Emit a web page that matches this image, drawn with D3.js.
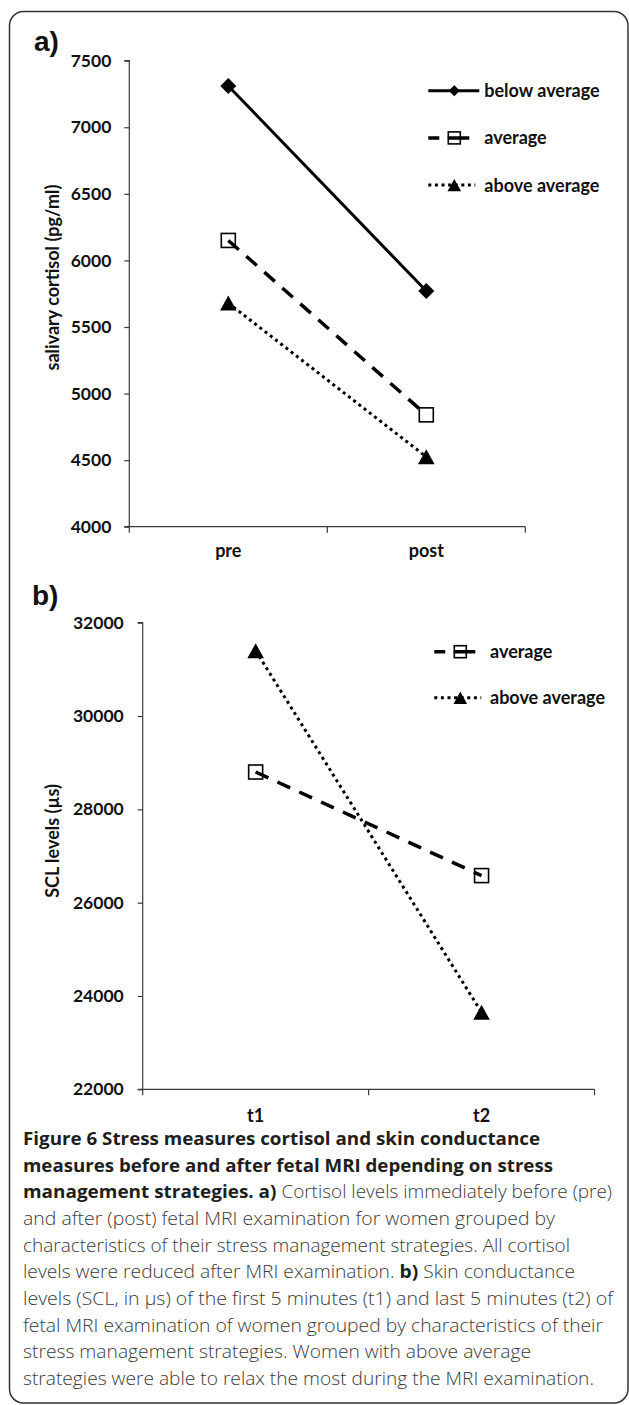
<!DOCTYPE html>
<html>
<head>
<meta charset="utf-8">
<script src="https://cdn.jsdelivr.net/npm/d3@7"></script>
<style>
  html, body { margin: 0; padding: 0; background: #fff; }
  svg { display: block; }
</style>
</head>
<body>
<svg id="chart" width="629" height="1405"></svg>
<script>
// ---------- data ----------
const catsA = ["pre", "post"];
const ticksA = [4000, 4500, 5000, 5500, 6000, 6500, 7000, 7500];
const belowA = [7310, 5770];
const averageA = [6150, 4840];
const aboveA = [5680, 4525];

const catsB = ["t1", "t2"];
const ticksB = [22000, 24000, 26000, 28000, 30000, 32000];
const averageB = [28800, 26580];
const aboveB = [31400, 23650];

const legendA = ["below average", "average", "above average"];
const legendB = ["average", "above average"];

const captionLines = [
  [["b", "Figure 6 Stress measures cortisol and skin conductance"]],
  [["b", "measures before and after fetal MRI depending on stress"]],
  [["b", "management strategies. a)"], ["r", " Cortisol levels immediately before (pre)"]],
  [["r", "and after (post) fetal MRI examination for women grouped by"]],
  [["r", "characteristics of their stress management strategies. All cortisol"]],
  [["r", "levels were reduced after MRI examination. "], ["b", "b)"], ["r", " Skin conductance"]],
  [["r", "levels (SCL, in µs) of the first 5 minutes (t1) and last 5 minutes (t2) of"]],
  [["r", "fetal MRI examination of women grouped by characteristics of their"]],
  [["r", "stress management strategies. Women with above average"]],
  [["r", "strategies were able to relax the most during the MRI examination."]]
];
const captionWidths = [517, 530, 589, 532, 547, 552, 590, 580, 508, 571];

// ---------- setup ----------
const svg = d3.select("#chart");
const FONT = "Lato, 'Open Sans', 'DejaVu Sans', sans-serif";
const AXIS_COLOR = "#3a3a3a";
const LABEL_SIZE = "18px";
const TICK_SIZE = "17.5px";

svg.append("rect")
  .attr("x", 9.5).attr("y", 11.5)
  .attr("width", 618.5).attr("height", 1391.5)
  .attr("rx", 14).attr("ry", 14)
  .attr("fill", "none").attr("stroke", "#333").attr("stroke-width", 1.5);

const diamondPath = (s) => `M0,${-s}L${s},0L0,${s}L${-s},0Z`;
const trianglePath = (w, h) => `M0,${-h}L${w},${h}L${-w},${h}Z`;

function drawMarker(g, type, cx, cy, big) {
  if (type === "diamond") {
    g.append("path").attr("d", diamondPath(big ? 8 : 5.5))
      .attr("transform", `translate(${cx},${cy})`).attr("fill", "#000");
  } else if (type === "square") {
    const s = big ? 14 : 12;
    g.append("rect").attr("x", cx - s / 2).attr("y", cy - s / 2)
      .attr("width", s).attr("height", s)
      .attr("fill", "none").attr("stroke", "#000").attr("stroke-width", 1.6);
  } else {
    g.append("path").attr("d", big ? trianglePath(8.3, 7.5) : trianglePath(6.8, 6.2))
      .attr("transform", `translate(${cx},${cy})`).attr("fill", "#000");
  }
}

const styles = {
  solid:  { dash: null,     width: 3,   cap: "butt" },
  dashed: { dash: "14,10",  width: 3.5, cap: "butt" },
  dotted: { dash: "3,3.6",  width: 3,   cap: "butt" }
};

function panel(opts) {
  const g = svg.append("g");
  const y = d3.scaleLinear().domain(opts.domain).range([opts.y1, opts.y0]);
  const x = d3.scaleBand().domain(opts.cats).range([opts.x0, opts.x1]).padding(0);
  const bw = x.bandwidth();
  const cx = (c) => x(c) + bw / 2;

  // y axis
  const ya = g.append("g").attr("transform", `translate(${opts.x0},0)`)
    .call(d3.axisLeft(y).tickValues(opts.ticks).tickSize(5).tickPadding(opts.tickPad).tickFormat(d3.format("d")));
  ya.select(".domain").attr("stroke", AXIS_COLOR).attr("stroke-width", 1.2).attr("d", `M-5,${opts.y0}H0V${opts.y1}H-5`);
  ya.selectAll(".tick line").attr("stroke", AXIS_COLOR).attr("stroke-width", 1.2);
  ya.selectAll(".tick text").attr("font-family", FONT).attr("font-weight", "bold")
    .attr("font-size", TICK_SIZE).attr("fill", "#111");

  // x axis
  const xa = g.append("g").attr("transform", `translate(0,${opts.y1})`)
    .call(d3.axisBottom(x).tickSize(0).tickFormat(""));
  xa.select(".domain").attr("stroke", AXIS_COLOR).attr("stroke-width", 1.2)
    .attr("d", `M${opts.x0},0H${opts.x1}`);
  xa.selectAll(".tick").remove();
  const edges = opts.cats.map(c => x(c)).concat([x(opts.cats[opts.cats.length - 1]) + bw]);
  xa.selectAll("line.edge").data(edges).enter().append("line")
    .attr("class", "edge")
    .attr("x1", d => d).attr("x2", d => d).attr("y1", 0).attr("y2", 6)
    .attr("stroke", AXIS_COLOR).attr("stroke-width", 1.2);
  g.selectAll("text.cat").data(opts.cats).enter().append("text")
    .attr("class", "cat")
    .attr("x", d => cx(d)).attr("y", opts.catBaseline)
    .attr("text-anchor", "middle")
    .attr("font-family", FONT).attr("font-weight", "bold").attr("font-size", LABEL_SIZE).attr("fill", "#111")
    .text(d => d);

  // y label
  g.append("text")
    .attr("transform", `translate(${opts.ylabX},${opts.ylabY}) rotate(-90)`)
    .attr("text-anchor", "middle")
    .attr("font-family", FONT).attr("font-weight", "bold").attr("font-size", LABEL_SIZE).attr("fill", "#111")
    .text(opts.ylab);

  // panel letter
  g.append("text")
    .attr("x", opts.letterX).attr("y", opts.letterY)
    .attr("font-family", "'Liberation Sans', Arial, sans-serif").attr("font-weight", "bold")
    .attr("font-size", "28px").attr("fill", "#111")
    .text(opts.letter);

  // series
  const line = d3.line().x((d, i) => cx(opts.cats[i])).y(d => y(d));
  opts.series.forEach(s => {
    const st = styles[s.style];
    g.append("path").datum(s.values).attr("d", line)
      .attr("fill", "none").attr("stroke", "#000")
      .attr("stroke-width", st.width).attr("stroke-linecap", st.cap)
      .attr("stroke-dasharray", st.dash);
    s.values.forEach((v, i) => drawMarker(g, s.marker, cx(opts.cats[i]), y(v), true));
  });

  // legend
  opts.series.forEach((s, i) => {
    const ly = opts.legY + i * opts.legStep;
    const lx = opts.legX;
    if (s.style === "solid") {
      g.append("line").attr("x1", lx).attr("x2", lx + 51).attr("y1", ly).attr("y2", ly)
        .attr("stroke", "#000").attr("stroke-width", 3);
    } else if (s.style === "dashed") {
      g.append("line").attr("x1", lx).attr("x2", lx + 41).attr("y1", ly).attr("y2", ly)
        .attr("stroke", "#000").attr("stroke-width", 3.5).attr("stroke-dasharray", "11,8.5,22,0");
    } else {
      g.append("line").attr("x1", lx).attr("x2", lx + 47).attr("y1", ly).attr("y2", ly)
        .attr("stroke", "#000").attr("stroke-width", 3).attr("stroke-dasharray", "3,3.6");
    }
    drawMarker(g, s.marker, lx + 26, ly, false);
    g.append("text").attr("x", opts.legTextX).attr("y", ly + 6.5)
      .attr("font-family", FONT).attr("font-weight", "bold").attr("font-size", LABEL_SIZE).attr("fill", "#111")
      .text(s.name);
  });
}

panel({
  cats: catsA, domain: [4000, 7500], ticks: ticksA,
  x0: 129.3, x1: 525.3, y0: 60.7, y1: 526.7, tickPad: 13,
  catBaseline: 557,
  ylab: "salivary cortisol (pg/ml)", ylabX: 59, ylabY: 277.5,
  letter: "a)", letterX: 34, letterY: 51,
  series: [
    { name: legendA[0], values: belowA, style: "solid", marker: "diamond" },
    { name: legendA[1], values: averageA, style: "dashed", marker: "square" },
    { name: legendA[2], values: aboveA, style: "dotted", marker: "triangle" }
  ],
  legX: 428.3, legY: 90.7, legStep: 47.2, legTextX: 484.3
});

panel({
  cats: catsB, domain: [22000, 32000], ticks: ticksB,
  x0: 142.7, x1: 594.5, y0: 622.7, y1: 1089.3, tickPad: 14,
  catBaseline: 1122,
  ylab: "SCL levels (µs)", ylabX: 59, ylabY: 841,
  letter: "b)", letterX: 32, letterY: 605,
  series: [
    { name: legendB[0], values: averageB, style: "dashed", marker: "square" },
    { name: legendB[1], values: aboveB, style: "dotted", marker: "triangle" }
  ],
  legX: 434.3, legY: 651.7, legStep: 46, legTextX: 490
});

// ---------- caption ----------
const cap = svg.append("g");
captionLines.forEach((parts, i) => {
  const t = cap.append("text")
    .attr("x", 23).attr("y", 1145 + i * 26.67)
    .attr("font-family", "'Open Sans', Lato, sans-serif").attr("font-size", "18.5px");
  parts.forEach(p => {
    t.append("tspan")
      .attr("font-weight", p[0] === "b" ? "bold" : "300")
      .attr("fill", p[0] === "b" ? "#1e1e1e" : "#3a3a3a")
      .text(p[1]);
  });
  t.attr("textLength", captionWidths[i]).attr("lengthAdjust", "spacingAndGlyphs");
});
</script>
</body>
</html>
